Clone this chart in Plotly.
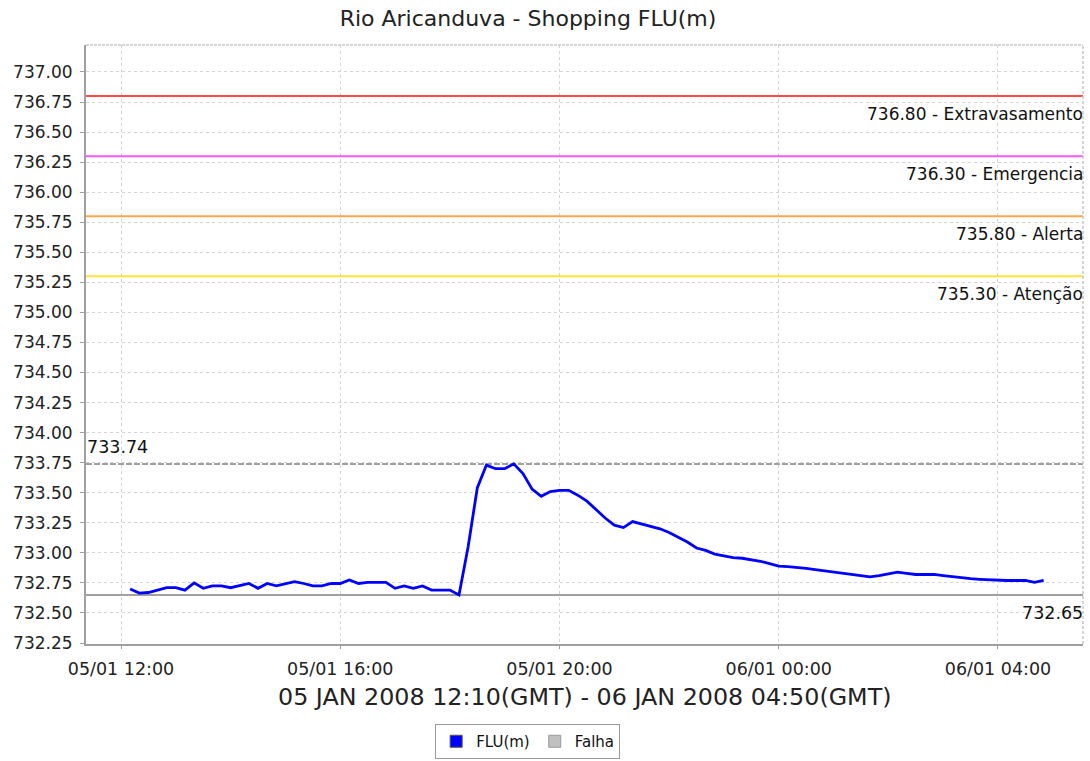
import pandas as pd
import plotly.graph_objects as go

# ---- data ----
start_time = "2008-01-05 12:10"
end_time = "2008-01-06 04:50"
times = pd.date_range(start_time, end_time, freq="10min")
levels = [
    732.70, 732.665, 732.67, 732.69, 732.71, 732.71, 732.69, 732.75, 732.705, 732.725,
    732.725, 732.71, 732.725, 732.745, 732.705, 732.745, 732.725, 732.74, 732.76, 732.745,
    732.725, 732.725, 732.745, 732.745, 732.775, 732.745, 732.755, 732.755, 732.755, 732.705,
    732.725, 732.705, 732.725, 732.69, 732.69, 732.69, 732.65, 733.05, 733.54, 733.73,
    733.70, 733.70, 733.74, 733.66, 733.53, 733.47, 733.51, 733.52, 733.52, 733.48,
    733.43, 733.36, 733.29, 733.23, 733.21, 733.26, 733.24, 733.22, 733.20, 733.17,
    733.13, 733.09, 733.04, 733.02, 732.99, 732.975, 732.96, 732.955, 732.945, 732.93,
    732.91, 732.89, 732.885, 732.88, 732.87, 732.86, 732.85, 732.84, 732.83, 732.82,
    732.815, 732.80, 732.81, 732.825, 732.84, 732.83, 732.82, 732.82, 732.82, 732.81,
    732.80, 732.79, 732.785, 732.78, 732.775, 732.77, 732.77, 732.77, 732.77, 732.755,
    732.77,
]
threshold_values = [736.80, 736.30, 735.80, 735.30]
threshold_names = ["Extravasamento", "Emergencia", "Alerta", "Atenção"]
threshold_colors = ["#ff4a4a", "#ff55ff", "#ffa64d", "#ffe23a"]
series_names = ["FLU(m)", "Falha"]
series_colors = ["#0000ff", "#c0c0c0"]
title_text = "Rio Aricanduva - Shopping FLU(m)"
xaxis_title = "05 JAN 2008 12:10(GMT) - 06 JAN 2008 04:50(GMT)"
x_range = ["2008-01-05 11:21:40", "2008-01-06 05:33:05"]
y_range = [732.2417, 737.2245]

FONT = "DejaVu Sans"
fig = go.Figure()

# main series
fig.add_trace(go.Scatter(
    x=times, y=levels, mode="lines", name=series_names[0],
    line=dict(color=series_colors[0], width=2.8), showlegend=False,
))
# legend entries (square symbols)
for name, col in zip(series_names, series_colors):
    fig.add_trace(go.Scatter(
        x=[None], y=[None], mode="markers", name=name,
        marker=dict(symbol="square", size=12, color=col,
                    line=dict(color="#555555" if name == "FLU(m)" else "#999999", width=1)),
    ))

shapes = []
annotations = []
# threshold lines
for v, n, c in zip(threshold_values, threshold_names, threshold_colors):
    shapes.append(dict(type="line", xref="paper", x0=0, x1=1, yref="y", y0=v, y1=v,
                       line=dict(color=c, width=2), layer="above"))
    annotations.append(dict(xref="paper", x=1, yref="y", y=v, xanchor="right", yanchor="middle",
                            yshift=-18, xshift=2, showarrow=False,
                            text=f"{v:.2f} - {n}", font=dict(family=FONT, size=17, color="#111")))

vmax = max(levels)
vmin = min(levels)
shapes.append(dict(type="line", xref="paper", x0=0, x1=1, yref="y", y0=vmax, y1=vmax,
                   line=dict(color="#a0a0a0", width=2, dash="6px,2px"), layer="below"))
shapes.append(dict(type="line", xref="paper", x0=0, x1=1, yref="y", y0=vmin, y1=vmin,
                   line=dict(color="#a0a0a0", width=2), layer="below"))
annotations.append(dict(xref="paper", x=0, yref="y", y=vmax, xanchor="left", yanchor="middle",
                        yshift=17, xshift=-1, showarrow=False, text=f"{vmax:.2f}",
                        font=dict(family=FONT, size=17.5, color="#111")))
annotations.append(dict(xref="paper", x=1, yref="y", y=vmin, xanchor="right", yanchor="middle",
                        yshift=-18, xshift=2, showarrow=False, text=f"{vmin:.2f}",
                        font=dict(family=FONT, size=17.5, color="#111")))
# top / right border
shapes.append(dict(type="line", xref="paper", yref="paper", x0=0, x1=1, y0=1, y1=1,
                   line=dict(color="#c8c8c8", width=1.5, dash="3px,1px")))
shapes.append(dict(type="line", xref="paper", yref="paper", x0=1, x1=1, y0=0, y1=1,
                   line=dict(color="#c8c8c8", width=1.5, dash="3px,2px")))

# axis title
annotations.append(dict(xref="paper", x=0.5, yref="paper", y=-(697 - 644) / 599, xanchor="center",
                        yanchor="middle", showarrow=False, text=xaxis_title,
                        font=dict(family=FONT, size=23.8, color="#222")))

fig.update_layout(
    width=1090, height=761,
    margin=dict(l=86, r=7, t=45, b=117, autoexpand=False),
    paper_bgcolor="white", plot_bgcolor="white",
    title=dict(text=title_text, x=528 / 1090, xanchor="center", xref="container",
               y=1 - 18 / 761, yanchor="middle", yref="container",
               font=dict(family=FONT, size=22, color="#222")),
    shapes=shapes, annotations=annotations,
    legend=dict(orientation="h", x=0.443, xanchor="center", y=-(759 - 644) / 599, yanchor="bottom",
                bordercolor="#999999", borderwidth=1, font=dict(family=FONT, size=15, color="#111"),
                itemwidth=30, tracegroupgap=0),
    font=dict(family=FONT),
)
fig.update_xaxes(
    type="date", range=x_range, tickformat="%d/%m %H:%M",
    tick0="2008-01-05 12:00", dtick=4 * 3600 * 1000,
    showgrid=True, gridcolor="#d4d4d4", griddash="3px,3px", gridwidth=1,
    showline=True, linecolor="#a0a0a0", linewidth=2,
    ticks="outside", ticklen=3, tickcolor="#a0a0a0",
    tickfont=dict(family=FONT, size=17.5, color="#222"), ticklabelstandoff=5,
    zeroline=False, automargin=False,
)
fig.update_yaxes(
    range=y_range, tick0=732.25, dtick=0.25, tickformat=".2f",
    showgrid=True, gridcolor="#d4d4d4", griddash="3px,3px", gridwidth=1,
    showline=True, linecolor="#a0a0a0", linewidth=2,
    ticks="outside", ticklen=4, tickcolor="#a0a0a0",
    tickfont=dict(family=FONT, size=17, color="#222"), ticklabelstandoff=4,
    zeroline=False, automargin=False,
)

fig.write_html("out.html", config={"displayModeBar": False},
               post_script="document.body.style.margin='0';document.body.style.overflow='hidden';")
